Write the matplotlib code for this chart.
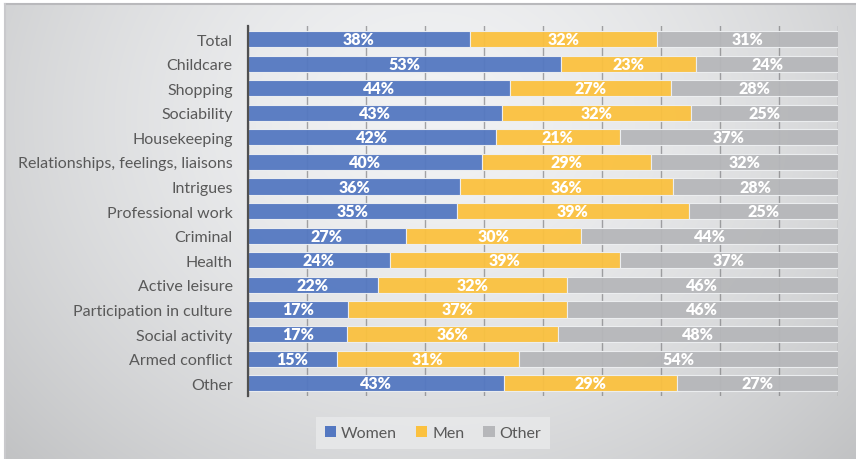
import numpy as np
import matplotlib
matplotlib.use("Agg")
import matplotlib.pyplot as plt
from matplotlib.patches import Patch

categories = [
    "Total", "Childcare", "Shopping", "Sociability", "Housekeeping",
    "Relationships, feelings, liaisons", "Intrigues", "Professional work",
    "Criminal", "Health", "Active leisure", "Participation in culture",
    "Social activity", "Armed conflict", "Other",
]
women = [38, 53, 44, 43, 42, 40, 36, 35, 27, 24, 22, 17, 17, 15, 43]
men = [32, 23, 27, 32, 21, 29, 36, 39, 30, 39, 32, 37, 36, 31, 29]
other = [31, 24, 28, 25, 37, 32, 28, 25, 44, 37, 46, 46, 48, 54, 27]
series_names = ["Women", "Men", "Other"]
colors = ["#5478c1", "#fbc13f", "#b6b7ba"]

plt.rcParams["font.family"] = ["Lato", "DejaVu Sans"]

W, H = 856, 460
fig = plt.figure(figsize=(W / 100, H / 100), dpi=100, facecolor="white")

# Gradient panel behind the chart
bg = fig.add_axes([5 / W, 0, 1 - 5 / W, 1 - 5 / H])
bg.set_axis_off()
yy, xx = np.mgrid[0:1:300j, 0:1:600j]
d = np.sqrt(((xx - 0.5) / 0.62) ** 2 + ((yy - 0.25) / 1.0) ** 2)
light = np.clip(0.945 - 0.16 * d ** 1.6, 0.74, 0.95)
img = np.dstack([light, light + 0.004, light + 0.01])
bg.imshow(np.clip(img, 0, 1), aspect="auto", extent=[0, 1, 1, 0], interpolation="bilinear")
bg.set_xlim(0, 1)
bg.set_ylim(1, 0)
fig.add_artist(plt.Line2D([5 / W, 1], [1 - 5 / H, 1 - 5 / H], color="#b9b9bc", lw=1.5))
fig.add_artist(plt.Line2D([5 / W, 5 / W], [0, 1 - 5 / H], color="#c9c9cc", lw=1.5))

ax = fig.add_axes([248 / W, 1 - 397 / H, 590 / W, 370 / H])
ax.patch.set_alpha(0)

vals = np.array([women, men, other], dtype=float)
shares = vals / vals.sum(axis=0) * 100
y = np.arange(len(categories))
left = np.zeros(len(categories))
for k in range(3):
    ax.barh(y, shares[k], left=left, height=0.66, color=colors[k],
            edgecolor="#eef0f2", linewidth=0.8, alpha=0.95, zorder=2)
    raw = vals[k]
    for i in range(len(categories)):
        ax.text(left[i] + shares[k][i] / 2, y[i], f"{int(raw[i])}%",
                ha="center", va="center", color="white", fontsize=11.5,
                fontweight="heavy", zorder=4)
    left += shares[k]

ax.set_xlim(0, 100)
ax.set_ylim(len(categories) - 0.48, -0.53)
ax.set_xticks(np.arange(0, 101, 10))
ax.set_xticklabels([])
ax.tick_params(axis="x", length=0)
ax.grid(axis="x", color="#6f6f72", linewidth=1.0, alpha=0.6, zorder=1)
ax.set_axisbelow(True)
ax.set_yticks(y)
ax.set_yticklabels(categories, fontsize=11.5, color="#595959")
ax.tick_params(axis="y", length=0, pad=11)
for s in ["top", "right", "bottom"]:
    ax.spines[s].set_visible(False)
ax.spines["left"].set_color("#505050")
ax.spines["left"].set_linewidth(1.6)
ax.spines["left"].set_zorder(5)

handles = [Patch(facecolor=c, edgecolor="none") for c in colors]
leg = fig.legend(handles, series_names, loc="center", bbox_to_anchor=(433 / W, 1 - 434 / H),
                 ncol=3, frameon=True, fontsize=11.5, handlelength=0.7, handleheight=0.7,
                 handletextpad=0.3, columnspacing=1.2, borderpad=0.55, fancybox=False)
leg.get_frame().set_facecolor("#e8e9ea")
leg.get_frame().set_edgecolor("none")
leg.get_frame().set_alpha(0.85)
for t in leg.get_texts():
    t.set_color("#595959")

fig.savefig("out.png", dpi=100)
